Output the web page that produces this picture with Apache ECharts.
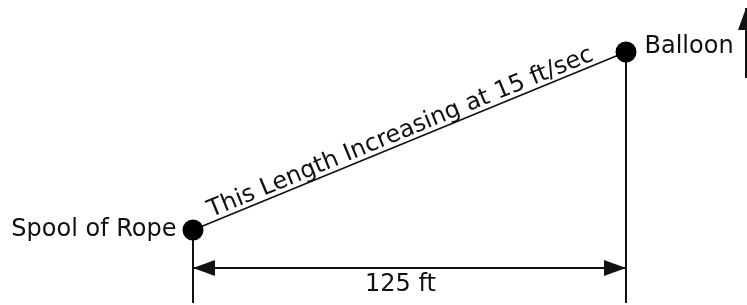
<!DOCTYPE html>
<html>
<head>
<meta charset="utf-8">
<script src="https://cdn.jsdelivr.net/npm/echarts@6/dist/echarts.min.js"></script>
<style>html,body{margin:0;padding:0;background:#fff}#main{width:747px;height:305px}</style>
</head>
<body>
<div id="main"></div>
<script>
// figure points, in picture units (y counts downward)
var pointNames = ['Spool of Rope', 'Balloon'];
var pointX = [193, 626];
var pointY = [230, 52];
var groundY = 303;
var dimY = 268;
var dimText = '125 ft';
var ropeText = 'This Length Increasing at 15 ft/sec';
var riseX = 746;
var riseY = [8, 78];

var ink = '#111';
var font = 'DejaVu Sans';
var fsize = 24;

var chart = echarts.init(document.getElementById('main'));

// plain segments
var segs = [
	{coords: [[pointX[0], pointY[0]], [pointX[1], pointY[1]]], lineStyle: {width: 1.7}},
	{coords: [[pointX[0], pointY[0]], [pointX[0], groundY]]},
	{coords: [[pointX[1], pointY[1]], [pointX[1], groundY]]},
	{coords: [[pointX[0], dimY], [pointX[1], dimY]]},
	{coords: [[riseX, riseY[1]], [riseX, riseY[0]]]}
];

// arrow tips: x, y, dx, dy (direction it points)
var arrows = [
	[pointX[0], dimY, -1, 0],
	[pointX[1], dimY, 1, 0],
	[riseX, riseY[0], 0, -1]
];

function arrowHead(params, api) {
	var tip = api.coord([api.value(0), api.value(1)]);
	var dx = api.value(2), dy = api.value(3);
	var len = 22, half = 8;
	var bx = tip[0] - dx * len, by = tip[1] - dy * len;
	return {
		type: 'polygon',
		shape: {points: [tip, [bx - dy * half, by + dx * half], [bx + dy * half, by - dx * half]]},
		style: {fill: ink}
	};
}

function texts(params, api) {
	var a = api.coord([pointX[0], pointY[0]]);
	var b = api.coord([pointX[1], pointY[1]]);
	var ang = Math.atan2(a[1] - b[1], b[0] - a[0]);
	var t = 0.49;
	var px = a[0] + (b[0] - a[0]) * t, py = a[1] + (b[1] - a[1]) * t;
	var mid = api.coord([(pointX[0] + pointX[1]) / 2 - 9, dimY + 17]);
	return {
		type: 'group',
		children: [{
			type: 'text',
			x: px, y: py + 1,
			rotation: ang,
			style: {text: ropeText, font: fsize + 'px "' + font + '"', fill: ink, align: 'center', verticalAlign: 'bottom'}
		}, {
			type: 'text',
			x: mid[0], y: mid[1],
			style: {text: dimText, font: fsize + 'px "' + font + '"', fill: ink, align: 'center', verticalAlign: 'middle'}
		}]
	};
}

chart.setOption({
	animation: false,
	grid: {left: 0, right: 0, top: 0, bottom: 0},
	xAxis: {type: 'value', min: 0, max: 747, show: false},
	yAxis: {type: 'value', min: 0, max: 305, inverse: true, show: false},
	series: [{
		type: 'lines',
		coordinateSystem: 'cartesian2d',
		silent: true,
		lineStyle: {color: ink, width: 2, opacity: 1},
		data: segs
	}, {
		type: 'custom',
		silent: true,
		renderItem: arrowHead,
		data: arrows
	}, {
		type: 'custom',
		silent: true,
		renderItem: texts,
		data: [[0, 0]]
	}, {
		type: 'scatter',
		symbolSize: 21,
		itemStyle: {color: '#000', opacity: 1},
		silent: true,
		data: [{
			value: [pointX[0], pointY[0]], name: pointNames[0],
			label: {show: true, position: 'left', distance: 6}
		}, {
			value: [pointX[1], pointY[1]], name: pointNames[1],
			label: {show: true, position: 'right', distance: 8, offset: [0, -5]}
		}],
		label: {formatter: '{b}', color: ink, fontFamily: font, fontSize: fsize}
	}]
});
</script>
</body>
</html>
